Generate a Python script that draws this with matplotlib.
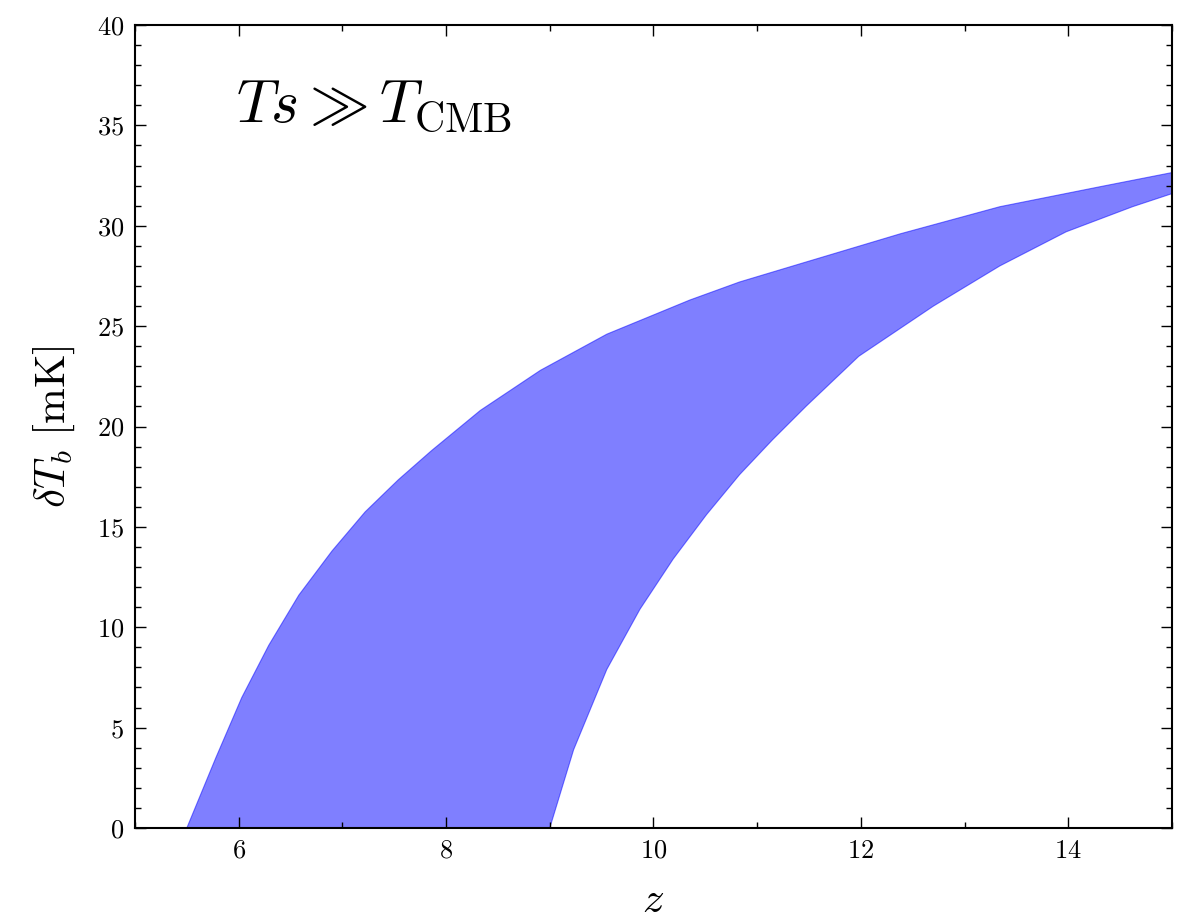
import numpy as np
import matplotlib
matplotlib.use('Agg')
import matplotlib.pyplot as plt
from matplotlib.ticker import MultipleLocator

plt.rcParams['font.family'] = 'serif'
plt.rcParams['font.serif'] = ['cmr10']
plt.rcParams['mathtext.fontset'] = 'cm'
plt.rcParams['axes.formatter.use_mathtext'] = True

# upper (left) edge of the band
z_upper = [5.50, 5.78, 6.03, 6.29, 6.58, 6.90, 7.22, 7.54, 7.86, 8.33,
           8.91, 9.55, 10.35, 10.83, 11.41, 12.38, 13.34, 14.31, 15.0]
dtb_upper = [0.0, 3.5, 6.5, 9.1, 11.6, 13.8, 15.75, 17.35, 18.8, 20.8,
             22.8, 24.6, 26.3, 27.2, 28.1, 29.6, 30.95, 31.95, 32.65]

# lower (right) edge of the band
z_lower = [9.0, 9.23, 9.55, 9.87, 10.19, 10.51, 10.83, 11.15, 11.47,
           11.98, 12.70, 13.34, 13.98, 14.62, 15.0]
dtb_lower = [0.0, 3.9, 7.9, 10.9, 13.4, 15.6, 17.6, 19.35, 21.0,
             23.5, 26.0, 28.0, 29.7, 30.95, 31.6]

fig = plt.figure(figsize=(11.89, 9.23), dpi=100)
ax = fig.add_axes([0.1135, 0.1029, 0.8722, 0.87])

band_z = np.concatenate([z_upper, z_lower[::-1]])
band_t = np.concatenate([dtb_upper, dtb_lower[::-1]])
ax.fill(band_z, band_t, facecolor='blue', alpha=0.5, edgecolor='blue',
        linewidth=0.8, joinstyle='round')

ax.set_xlim(5, 15)
ax.set_ylim(0, 40)
ax.xaxis.set_major_locator(MultipleLocator(2))
ax.xaxis.set_minor_locator(MultipleLocator(1))
ax.yaxis.set_major_locator(MultipleLocator(5))
ax.yaxis.set_minor_locator(MultipleLocator(1))
ax.tick_params(which='both', direction='in', top=True, right=True,
               labelsize=19, width=1.0, pad=8)
ax.tick_params(which='major', length=8)
ax.tick_params(which='minor', length=4)
for sp in ax.spines.values():
    sp.set_linewidth(1.5)

ax.set_xlabel(r'$z$', fontsize=31, labelpad=14)
ax.set_ylabel(r'$\delta T_b\ [\mathrm{mK}]$', fontsize=31, labelpad=14)

ax.text(5.97, 35.2, r'$T s \gg T_{\rm CMB}$', fontsize=43)

fig.savefig('out.png', dpi=100)
